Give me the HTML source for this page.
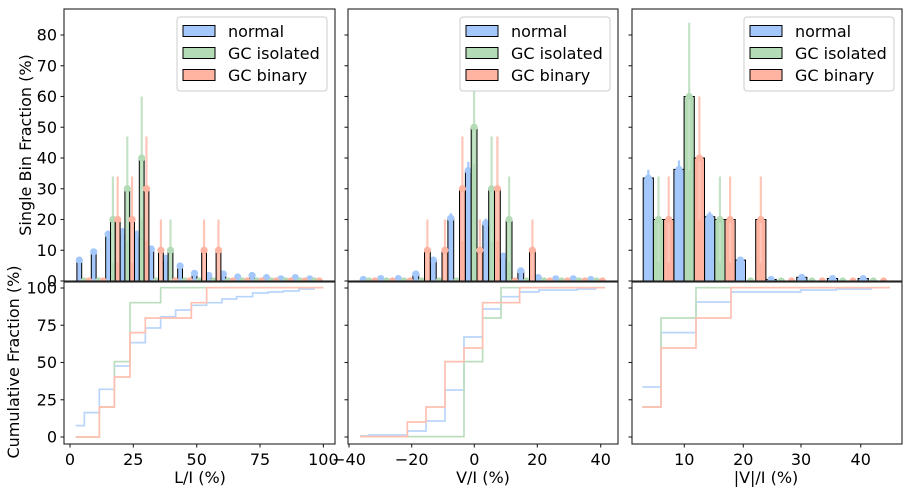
<!DOCTYPE html>
<html><head><meta charset="utf-8"><style>
body{margin:0;background:#fff}
svg{display:block;font-family:"DejaVu Sans","Liberation Sans",sans-serif}
</style></head><body>
<svg id="s" width="907" height="489" viewBox="0 0 907 489" xmlns="http://www.w3.org/2000/svg">
<defs>
<clipPath id="c1"><rect x="64" y="9" width="271" height="272"/></clipPath>
<clipPath id="c2"><rect x="348" y="9" width="270" height="272"/></clipPath>
<clipPath id="c3"><rect x="632" y="9" width="270" height="272"/></clipPath>
</defs>
<g id="bars"></g>
<!-- cumulative -->
<g fill="none" stroke-width="5.1" opacity="0.75">
<g transform="translate(60,280) scale(0.3333)">
<path stroke="#a4c8fb" d="M47,437 H73 V398 H118 V328 H163 V258 H210 V188 H256 V144 H302 V110 H347 V90 H394 V76 H440 V68 H486 V57 H530 V50 H578 V39 H625 V36 H670 V33 H717 V27 H762 V24"/>
<path stroke="#a6d3aa" d="M47,471 H118 V381 H163 V245 H210 V68 H302 V23 H790"/>
<path stroke="#ffab97" d="M47,471 H118 V381 H163 V291 H210 V158 H256 V114 H394 V68 H440 V23 H790"/>
</g>
<g transform="translate(345,280) scale(0.3333)">
<path stroke="#a4c8fb" d="M45,468 H72 V465 H187 V453 H243 V423 H300 V330 H357 V171 H413 V87 H468 V50 H524 V36 H582 V30 H697 V27 H752 V24"/>
<path stroke="#a6d3aa" d="M45,470 H357 V245 H413 V114 H468 V23 H780"/>
<path stroke="#ffab97" d="M45,470 H187 V426 H243 V381 H300 V245 H357 V204 H413 V68 H524 V23 H780"/>
</g>
<g transform="translate(625,280) scale(0.3333)">
<path stroke="#a4c8fb" d="M52,321 H108 V158 H213 V66 H318 V36 H527 V30 H634 V27 H738 V24"/>
<path stroke="#a6d3aa" d="M52,381 H108 V114 H213 V23 H795"/>
<path stroke="#ffab97" d="M52,381 H108 V204 H213 V114 H318 V23 H795"/>
</g>
</g>
<g id="axes" fill="none" stroke="#222" stroke-width="1.1"></g>
<g id="txt" font-size="16" fill="#000"></g>
</svg>
<script>
const NS="http://www.w3.org/2000/svg";
function el(p,t,a,txt){const e=document.createElementNS(NS,t);for(const k in a)e.setAttribute(k,a[k]);if(txt!==undefined)e.textContent=txt;p.appendChild(e);return e;}
const bars=document.getElementById('bars'),axes=document.getElementById('axes'),txt=document.getElementById('txt');
const Y=v=>281-3.075*v;
const col={b:"#a4c8fb",g:"#b3dbb6",r:"#ffb4a2"},ecol={b:"#a4c8fb",g:"#c4e2c6",r:"#ffc6b8"};
const panels=[
 {clip:"c1",x0:79.3,pitch:14.4,w:4.8,
  b:[6.8,9.5,15.2,16,15.2,10.4,7.4,4.9,2.5,1.8,2.3,1.3,1.8,1.1,0.7,1.1,0.7],
  g:[0,0,20,30,40,0,10,0,0,0,0,0,0,0,0,0,0],
  r:[0,0,20,20,30,10,0,0,10,10,0,0,0,0,0,0,0],
  ge:{2:34,3:47,4:60,6:20}, re:{2:34,3:34,4:47,5:20,8:20,9:20}},
 {clip:"c2",x0:363.3,pitch:17.5,w:5.8,
  b:[0.5,0.8,0.8,2.3,6.8,20.4,35.9,18.8,8.1,3.3,1.1,0.7,0.7,0.5],
  g:[0,0,0,0,0,0,50,30,20,0,0,0,0,0],
  r:[0,0,0,10,10,30,10,30,0,10,0,0,0,0],
  ge:{6:62,7:47,8:34}, re:{3:20,4:20,5:47,6:20,7:47,9:20}},
 {clip:"c3",x0:648.3,pitch:30.7,w:10.2,
  b:[33.5,36.3,20.9,6.8,0.5,1.2,0.8,0.8],
  g:[20,60,20,0,0,0,0,0],
  r:[20,40,20,20,0,0,0,0],
  ge:{0:34,1:84,2:34}, re:{0:34,1:60,2:34,3:34}}
];
panels.forEach(p=>{
 const g=el(bars,'g',{'clip-path':'url(#'+p.clip+')'});
 const n=p.b.length;
 ['b','g','r'].forEach((s,si)=>{
  for(let i=0;i<n;i++){
   const v=p[s][i],cx=p.x0+i*p.pitch+si*p.w;
   if(v>0) el(g,'rect',{x:cx-p.w/2,y:Y(v),width:p.w,height:281-Y(v),fill:col[s],stroke:'#000','stroke-width':1});
   let top = s==='b' ? v+Math.max(0.8,v*0.08) : ((s==='g'?p.ge:p.re)[i]);
   if(top!==undefined && v>0){
     const lo=Math.max(0,2*v-top);
     el(g,'line',{x1:cx,x2:cx,y1:Y(top),y2:Y(lo),stroke:ecol[s],'stroke-width':2.2});
   }
   el(g,'circle',{cx:cx,cy:Y(v),r:3.6,fill:col[s]});
  }
 });
});
// axes
const P=[[64,335],[348,618],[632,902]];
P.forEach(([a,b],k)=>{
 el(axes,'rect',{x:a,y:9,width:b-a,height:272});
 el(axes,'rect',{x:a,y:282,width:b-a,height:162});
 for(let v=0;v<=80;v+=10){const y=Y(v);el(axes,'line',{x1:a-3.5,x2:a,y1:y,y2:y});
   if(k==0) el(txt,'text',{x:a-7,y:y+5.5,'text-anchor':'end'},String(v));}
 for(let c=0;c<=100;c+=25){const y=437-1.49*c;el(axes,'line',{x1:a-3.5,x2:a,y1:y,y2:y});
   if(k==0) el(txt,'text',{x:a-7,y:y+5.5,'text-anchor':'end'},String(c));}
});
const xt=[[[70,"0"],[133.3,"25"],[196.7,"50"],[260,"75"],[323.4,"100"]],
 [[349,"\u221240"],[411.7,"\u221220"],[474.3,"0"],[537.3,"20"],[600.7,"40"]],
 [[684.3,"10"],[743.3,"20"],[801,"30"],[860.7,"40"]]];
xt.forEach(l=>l.forEach(([x,s])=>{el(axes,'line',{x1:x,x2:x,y1:444,y2:447.5});el(txt,'text',{x:x,y:465,'text-anchor':'middle'},s);}));
[[200,"L/I (%)"],[483,"V/I (%)"],[766,"|V|/I (%)"]].forEach(([x,s])=>el(txt,'text',{x:x,y:483,'text-anchor':'middle'},s));
el(txt,'text',{x:0,y:0,'text-anchor':'middle',transform:'translate(31,145) rotate(-90)'},"Single Bin Fraction (%)");
el(txt,'text',{x:0,y:0,'text-anchor':'middle',transform:'translate(19,362) rotate(-90)'},"Cumulative Fraction (%)");
// legends
[177,460,744].forEach(lx=>{
 el(txt,'rect',{x:lx,y:17,width:150,height:74,rx:3,fill:'#fff',stroke:'#ccc','stroke-width':1});
 [["b","normal"],["g","GC isolated"],["r","GC binary"]].forEach(([s,t],i)=>{
  const cy=31+i*22;
  el(txt,'rect',{x:lx+6,y:cy-5.5,width:32,height:11,fill:col[s],stroke:'#000','stroke-width':1});
  el(txt,'text',{x:lx+51,y:cy+6},t);
 });
});
</script>
</body></html>
